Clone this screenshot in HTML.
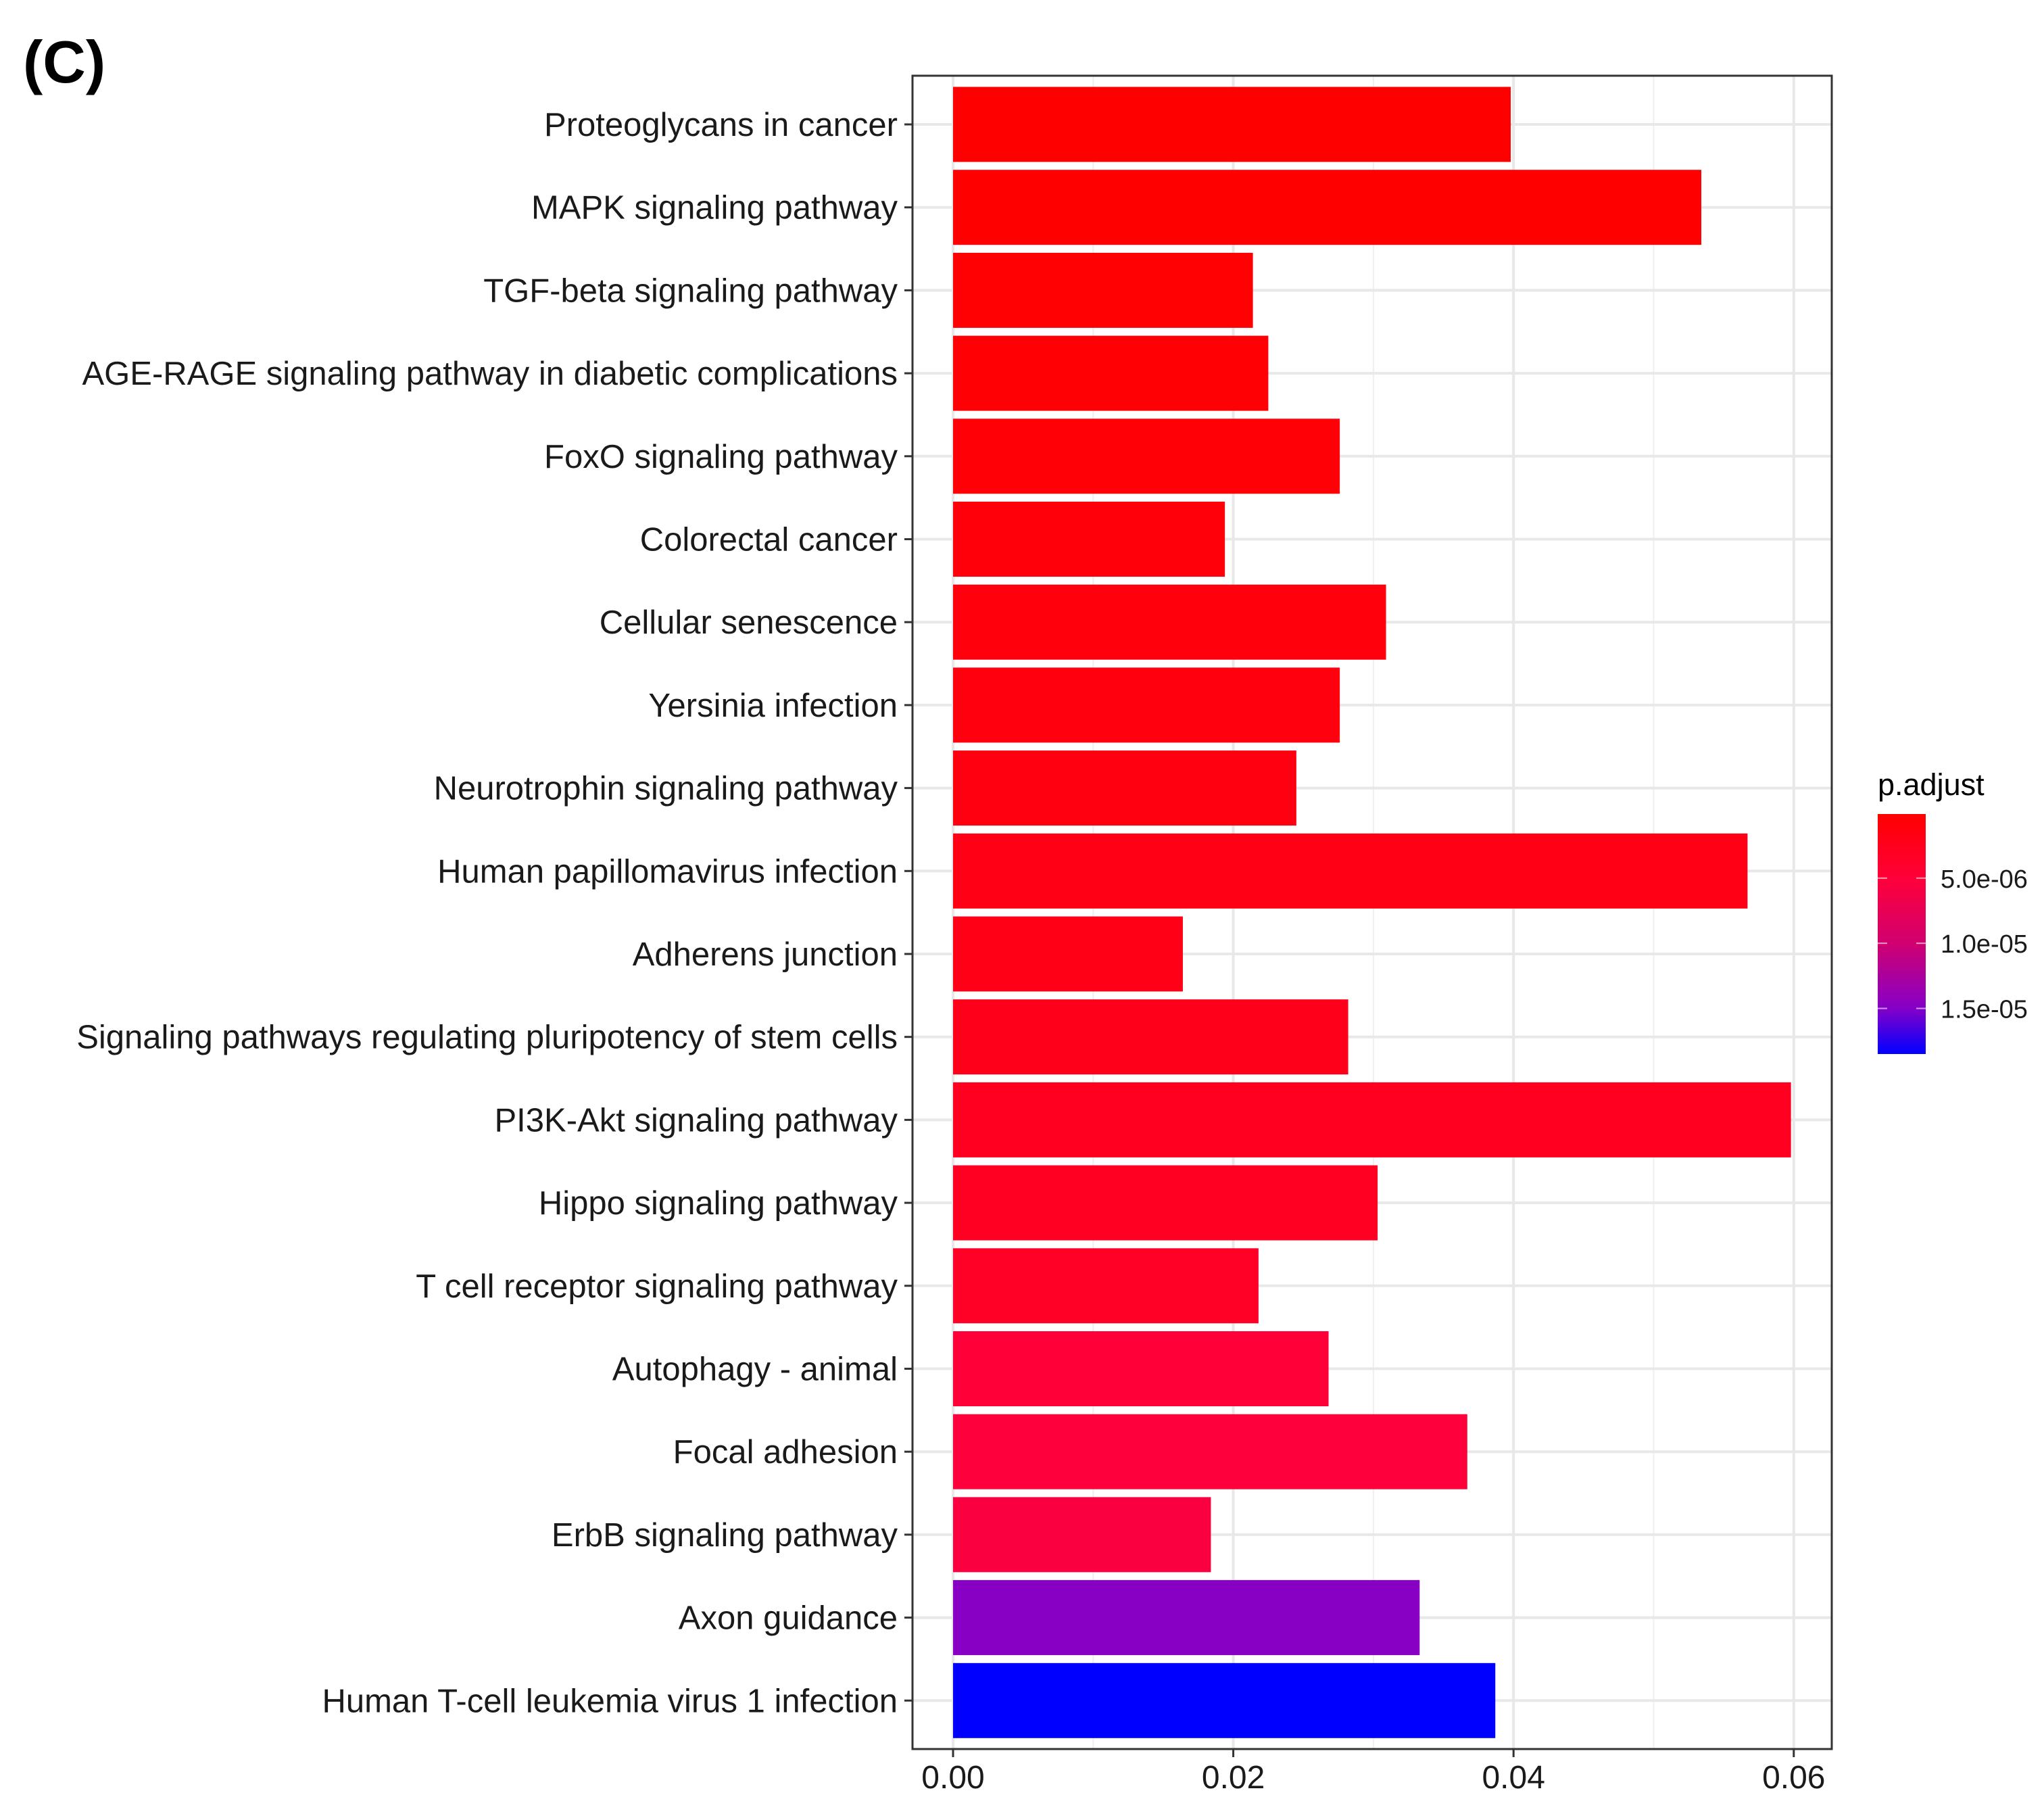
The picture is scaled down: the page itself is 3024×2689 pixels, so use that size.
<!DOCTYPE html>
<html><head><meta charset="utf-8"><style>
html,body{margin:0;padding:0;background:#fff;}
svg{display:block;font-family:"Liberation Sans",Arial,sans-serif;}
</style></head><body>
<svg id="chart" width="3024" height="2689" viewBox="0 0 3024 2689" xmlns="http://www.w3.org/2000/svg">
<rect x="0" y="0" width="3024" height="2689" fill="#fff"/>
<text x="34" y="122" font-size="88" font-weight="bold" fill="#000">(C)</text>
<g id="grid"></g>
<g id="bars"></g>
<rect x="1350" y="112" width="1360" height="2475" fill="none" stroke="#333" stroke-width="3"/>
<g id="yaxis"></g>
<g id="xaxis"></g>
<g id="legend">
<defs><linearGradient id="cg" x1="0" y1="0" x2="0" y2="1">
<stop offset="0" stop-color="#ff0000"/><stop offset="0.27" stop-color="#ff003a"/><stop offset="0.54" stop-color="#d00070"/><stop offset="0.81" stop-color="#8500c8"/><stop offset="1" stop-color="#0000ff"/>
</linearGradient></defs>
<text x="2778" y="1176" font-size="45" fill="#000">p.adjust</text>
<rect x="2778" y="1204" width="71" height="355" fill="url(#cg)"/>
</g>
</svg>
<script>
const categories = ["Proteoglycans in cancer","MAPK signaling pathway","TGF-beta signaling pathway","AGE-RAGE signaling pathway in diabetic complications","FoxO signaling pathway","Colorectal cancer","Cellular senescence","Yersinia infection","Neurotrophin signaling pathway","Human papillomavirus infection","Adherens junction","Signaling pathways regulating pluripotency of stem cells","PI3K-Akt signaling pathway","Hippo signaling pathway","T cell receptor signaling pathway","Autophagy - animal","Focal adhesion","ErbB signaling pathway","Axon guidance","Human T-cell leukemia virus 1 infection"];
const geneRatio = [0.0398,0.0534,0.0214,0.0225,0.0276,0.0194,0.0309,0.0276,0.0245,0.0567,0.0164,0.0282,0.0598,0.0303,0.0218,0.0268,0.0367,0.0184,0.0333,0.0387];
const pAdjust = [1e-7,1.5e-7,3e-7,5e-7,7e-7,9e-7,1.1e-6,1.3e-6,1.5e-6,1.8e-6,2e-6,2.3e-6,2.8e-6,3.0e-6,3.3e-6,4.9e-6,5.2e-6,5.6e-6,1.48e-5,1.85e-5];
const xTicks = [0,0.02,0.04,0.06];
const xTickLabels = ["0.00","0.02","0.04","0.06"];
const xMinor = [0.01,0.03,0.05];
const legendTicks = [5e-6,1e-5,1.5e-5];
const legendTickLabels = ["5.0e-06","1.0e-05","1.5e-05"];

const NS="http://www.w3.org/2000/svg";
const X0=1410, PER=20730, panelL=1350, panelR=2710, panelT=112, panelB=2587;
const Y0=184, STEP=122.7, BH=111;
function xs(v){return X0+v*PER;}
function ys(i){return Y0+i*STEP;}
const pMin=0.8e-7, pMax=1.85e-5;
function ly(p){return 1204+(p-pMin)/(pMax-pMin)*355;}
const stops=[[0,[255,0,0]],[0.27,[255,0,58]],[0.54,[208,0,112]],[0.81,[133,0,200]],[1,[0,0,255]]];
function col(p){let t=(p-pMin)/(pMax-pMin);t=Math.max(0,Math.min(1,t));
 for(let k=0;k<stops.length-1;k++){const a=stops[k],b=stops[k+1];if(t<=b[0]){const f=(t-a[0])/(b[0]-a[0]);
 return "rgb("+a[1].map((c,j)=>Math.round(c+(b[1][j]-c)*f)).join(",")+")";}}return "rgb(0,0,255)";}
function mk(tag,attrs,parent){const e=document.createElementNS(NS,tag);for(const k in attrs)e.setAttribute(k,attrs[k]);parent.appendChild(e);return e;}
const grid=document.getElementById('grid'),bars=document.getElementById('bars'),ya=document.getElementById('yaxis'),xa=document.getElementById('xaxis'),lg=document.getElementById('legend');
xMinor.forEach(v=>{const l=mk('line',{x1:xs(v),x2:xs(v),y1:panelT,y2:panelB,stroke:'#efefef','stroke-width':2},grid);

});
xTicks.forEach(v=>{const l=mk('line',{x1:xs(v),x2:xs(v),y1:panelT,y2:panelB,stroke:'#e8e8e8','stroke-width':4},grid);

});
categories.forEach((c,i)=>{const l=mk('line',{x1:panelL,x2:panelR,y1:ys(i),y2:ys(i),stroke:'#e8e8e8','stroke-width':4},grid);


const r=mk('rect',{x:xs(0),y:ys(i)-BH/2,width:xs(geneRatio[i])-xs(0),height:BH,fill:col(pAdjust[i])},bars);


const t=mk('line',{x1:panelL-12,x2:panelL,y1:ys(i),y2:ys(i),stroke:'#333','stroke-width':3},ya);


const tx=mk('text',{x:panelL-22,y:ys(i)+17,'font-size':49,'text-anchor':'end',fill:'#1a1a1a'},ya);
tx.textContent=c;

});
xTicks.forEach((v,i)=>{const t=mk('line',{x1:xs(v),x2:xs(v),y1:panelB,y2:panelB+12,stroke:'#333','stroke-width':3},xa);


const tx=mk('text',{x:xs(v),y:2645,'font-size':48,'text-anchor':'middle',fill:'#1a1a1a'},xa);
tx.textContent=xTickLabels[i];

});
legendTicks.forEach((p,i)=>{const y=ly(p);
const a=mk('line',{x1:2778,x2:2792,y1:y,y2:y,stroke:'#ffffff','stroke-opacity':0.6,'stroke-width':2},lg);


const b=mk('line',{x1:2835,x2:2849,y1:y,y2:y,stroke:'#ffffff','stroke-opacity':0.6,'stroke-width':2},lg);


const tx=mk('text',{x:2871,y:y+14,'font-size':38,fill:'#1a1a1a'},lg);
tx.textContent=legendTickLabels[i];

});
</script>
</body></html>
